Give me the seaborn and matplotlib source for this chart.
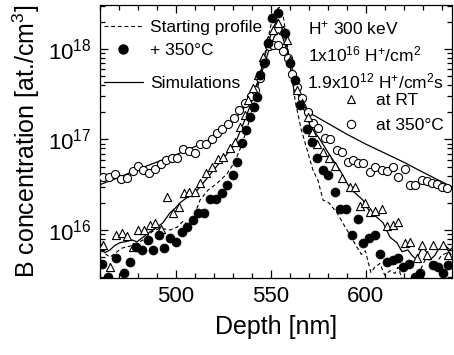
import numpy as np
import pandas as pd
import matplotlib
matplotlib.use("Agg")
import matplotlib.pyplot as plt
import seaborn as sns
from matplotlib.lines import Line2D
from matplotlib.ticker import MultipleLocator, LogLocator, NullFormatter

# ---------------- data (depth in nm, concentration as log10 of at./cm^3) ----------------
start_x = [460.2, 465.4, 471.7, 477.5, 482.8, 487.5, 491.7, 497.0, 500.7, 504.0, 507.5, 512.8,
           517.0, 522.0, 527.0, 531.0, 535.0, 539.0, 543.0, 547.0, 550.0, 552.5, 554.5, 556.5,
           558.5, 560.5, 563.0, 566.0, 569.0, 572.3, 574.9, 577.6, 580.7, 584.9, 588.5, 592.2,
           595.2, 597.8, 599.9, 601.2, 602.8, 604.9, 607.5, 610.1, 612.8, 615.4, 617.0, 620.0,
           624.0, 628.0, 632.0, 636.0, 640.0, 644.0, 646.0]
start_log = [15.78, 15.70, 15.80, 15.83, 15.89, 15.98, 16.02, 16.00, 16.03, 16.10, 16.03, 16.33,
             16.44, 16.52, 16.62, 16.75, 16.95, 17.22, 17.55, 17.95, 18.25, 18.42, 18.46, 18.38,
             18.10, 17.78, 17.42, 17.12, 16.90, 16.66, 16.55, 16.33, 16.30, 16.19, 16.06, 15.93,
             15.82, 15.73, 15.77, 15.66, 15.53, 15.59, 15.63, 15.50, 15.55, 15.52, 15.59, 15.42,
             15.38, 15.52, 15.70, 15.60, 15.72, 15.76, 15.70]

anneal_x = [461.3, 464.4, 468.6, 472.8, 476.0, 479.1, 482.3, 485.4, 488.1, 491.2, 493.8, 497.0,
            500.2, 503.3, 505.9, 509.1, 511.7, 514.9, 518.1, 521.3, 524.4, 527.1, 530.2, 532.5,
            535.0, 537.0, 539.0, 541.0, 542.8, 544.4, 546.5, 548.6, 550.7, 553.8, 557.5, 560.2,
            562.8, 565.5, 569.0, 571.8, 574.4, 577.6, 580.2, 583.9, 586.5, 589.7, 592.9, 596.0,
            598.6, 601.7, 604.9, 607.5, 611.2, 614.4, 617.0, 619.6, 622.8, 626.0, 628.6, 635.4,
            638.2, 640.7, 643.3]
anneal_log = [15.62, 15.48, 15.69, 15.52, 15.65, 15.81, 15.78, 15.89, 15.78, 15.94, 15.80, 15.91,
              15.87, 15.98, 16.03, 16.11, 16.19, 16.19, 16.34, 16.34, 16.41, 16.50, 16.61, 16.75,
              16.96, 17.10, 17.25, 17.36, 17.47, 17.71, 17.85, 18.07, 18.34, 18.40, 18.18, 17.85,
              17.66, 17.38, 17.12, 16.97, 16.80, 16.66, 16.61, 16.42, 16.23, 16.23, 15.94, 16.12,
              15.86, 15.91, 15.94, 15.73, 15.65, 15.67, 15.69, 15.59, 15.62, 15.48, 15.52, 15.61,
              15.59, 15.52, 15.61]

rt_x = [461.8, 465.4, 468.6, 471.7, 474.4, 477.5, 480.2, 483.3, 486.5, 489.1, 492.3, 495.4,
        498.6, 501.8, 504.4, 507.0, 510.2, 512.8, 515.9, 519.0, 522.3, 525.0, 528.6, 531.3,
        533.8, 536.5, 538.1, 540.7, 543.4, 546.0, 548.6, 551.3, 553.8, 556.5, 558.6, 560.2,
        563.8, 566.5, 569.5, 571.8, 574.5, 577.5, 580.5, 583.8, 587.5, 591.7, 594.4, 597.0,
        599.6, 602.3, 604.9, 608.6, 611.2, 614.4, 617.0, 620.7, 623.3, 627.0, 629.6, 632.3,
        635.4, 640.7, 643.3]
rt_log = [15.83, 15.59, 15.95, 15.97, 15.93, 15.81, 16.00, 16.00, 16.06, 16.08, 16.01, 16.37,
          16.19, 16.25, 16.41, 16.42, 16.42, 16.52, 16.63, 16.70, 16.78, 16.81, 16.91, 16.97,
          17.14, 17.27, 17.44, 17.57, 17.71, 17.91, 18.10, 18.21, 18.29, 18.21, 18.10, 17.88,
          17.55, 17.40, 17.25, 17.08, 16.95, 16.86, 16.80, 16.71, 16.57, 16.48, 16.48, 16.27,
          16.30, 16.20, 16.21, 16.23, 16.04, 16.06, 16.09, 15.86, 15.87, 15.69, 15.83, 15.72,
          15.83, 15.83, 15.72]

hot_x = [461.7, 464.9, 468.1, 471.2, 474.4, 477.5, 480.2, 482.8, 485.9, 489.1, 492.3, 494.9,
         498.1, 500.7, 503.8, 507.0, 510.2, 512.8, 515.9, 519.1, 521.8, 524.5, 527.5, 530.5,
         533.5, 536.5, 539.5, 542.0, 544.5, 547.0, 549.0, 551.5, 554.0, 556.5, 559.0, 561.5,
         564.0, 566.5, 569.5, 572.3, 574.9, 578.6, 581.2, 584.9, 587.5, 590.7, 593.3, 596.0,
         598.6, 602.3, 604.9, 608.6, 611.2, 614.4, 617.0, 620.7, 623.3, 626.0, 629.6, 632.3,
         635.0, 637.6, 640.2, 642.8]
hot_log = [16.59, 16.59, 16.62, 16.56, 16.58, 16.65, 16.71, 16.66, 16.63, 16.67, 16.73, 16.77,
           16.80, 16.79, 16.90, 16.87, 16.85, 16.95, 16.95, 17.01, 17.07, 17.12, 17.17, 17.24,
           17.33, 17.40, 17.48, 17.55, 17.68, 17.86, 18.03, 18.04, 18.04, 17.98, 17.90, 17.72,
           17.58, 17.46, 17.30, 17.18, 17.13, 17.02, 17.01, 16.88, 16.86, 16.75, 16.77, 16.74,
           16.74, 16.64, 16.70, 16.66, 16.65, 16.70, 16.59, 16.67, 16.50, 16.50, 16.55, 16.54,
           16.52, 16.51, 16.48, 16.46]

sim_rt_x = [460.2, 462.8, 465.4, 468.0, 470.7, 473.3, 477.0, 479.6, 482.8, 486.5, 490.2, 493.3,
            497.0, 499.7, 502.3, 506.0, 509.2, 513.0, 518.0, 523.0, 527.0, 531.0, 536.5, 541.8,
            547.0, 550.8, 553.4, 556.5, 560.2, 565.5, 570.7, 576.0, 581.0, 586.5, 591.8, 598.6,
            602.3, 606.0, 609.2, 612.9, 616.5, 619.2, 622.3, 624.4, 627.0, 628.6, 630.2, 632.3,
            633.9, 636.5, 638.1, 641.8, 644.4, 646.0]
sim_rt_log = [15.80, 15.75, 15.78, 15.83, 15.86, 15.87, 15.89, 15.87, 15.92, 15.98, 16.03, 16.08,
              16.19, 16.24, 16.30, 16.36, 16.39, 16.48, 16.61, 16.74, 16.84, 16.94, 17.22, 17.52,
              17.93, 18.21, 18.32, 18.21, 17.88, 17.44, 17.16, 17.00, 16.83, 16.66, 16.46, 16.33,
              16.20, 16.14, 16.08, 15.92, 15.86, 15.76, 15.78, 15.72, 15.67, 15.76, 15.81, 15.75,
              15.67, 15.72, 15.78, 15.83, 15.78, 15.81]

sim_hot_x = [460, 470, 480, 490, 500, 510, 520, 528, 535, 540, 545, 549, 552, 554, 556, 558,
             560, 563, 566, 570, 575, 580, 590, 600, 610, 620, 630, 646]
sim_hot_log = [16.50, 16.58, 16.67, 16.75, 16.83, 16.92, 17.02, 17.15, 17.32, 17.48, 17.72, 17.98,
               18.14, 18.18, 18.15, 18.02, 17.82, 17.58, 17.42, 17.30, 17.24, 17.18, 17.06, 16.95,
               16.85, 16.75, 16.64, 16.47]

# ---------------- style ----------------
sns.set_theme(style="ticks", rc={"text.color": "black", "axes.labelcolor": "black",
                                 "xtick.color": "black", "ytick.color": "black",
                                 "axes.edgecolor": "black"})
plt.rcParams['font.family'] = ['Liberation Sans', 'DejaVu Sans']
plt.rcParams['mathtext.fontset'] = 'custom'
plt.rcParams['mathtext.rm'] = 'Liberation Sans'
plt.rcParams['mathtext.it'] = 'Liberation Sans:italic'
plt.rcParams['mathtext.bf'] = 'Liberation Sans:bold'
plt.rcParams['axes.linewidth'] = 0.9

fig = plt.figure(figsize=(4.54, 3.55), dpi=100)
ax = fig.add_axes([0.2196, 0.2177, 0.7760, 0.7683])

def frame(x, lg):
    return pd.DataFrame({"depth": x, "conc": np.power(10.0, np.asarray(lg))})

df_start = frame(start_x, start_log)
df_anneal = frame(anneal_x, anneal_log)
df_rt = frame(rt_x, rt_log)
df_hot = frame(hot_x, hot_log)
df_sim_rt = frame(sim_rt_x, sim_rt_log)
df_sim_hot = frame(sim_hot_x, sim_hot_log)

sns.lineplot(data=df_start, x="depth", y="conc", ax=ax, color="black", lw=0.8,
             dashes=False, linestyle=(0, (3.5, 2.5)), estimator=None, sort=False)
sns.lineplot(data=df_sim_rt, x="depth", y="conc", ax=ax, color="black", lw=0.9,
             estimator=None, sort=False)
sns.lineplot(data=df_sim_hot, x="depth", y="conc", ax=ax, color="black", lw=0.9,
             estimator=None, sort=False)
sns.scatterplot(data=df_hot, x="depth", y="conc", ax=ax, marker="o", s=34,
                facecolor="white", edgecolor="black", linewidth=0.8, zorder=3)
sns.scatterplot(data=df_rt, x="depth", y="conc", ax=ax, marker="^", s=34,
                facecolor="white", edgecolor="black", linewidth=0.8, zorder=3)
sns.scatterplot(data=df_anneal, x="depth", y="conc", ax=ax, marker="o", s=42,
                color="black", edgecolor="black", linewidth=0.5, zorder=4)

ax.set_yscale("log")
ax.set_xlim(460, 645.5)
ax.set_ylim(10 ** 15.473, 10 ** 18.486)

ax.xaxis.set_major_locator(MultipleLocator(50))
ax.xaxis.set_minor_locator(MultipleLocator(10))
ax.yaxis.set_major_locator(LogLocator(base=10, numticks=10))
ax.yaxis.set_minor_locator(LogLocator(base=10, subs=np.arange(2, 10), numticks=20))
ax.yaxis.set_minor_formatter(NullFormatter())
ax.set_xticks([500, 550, 600])
ax.set_xticklabels(["500", "550", "600"])
ax.set_yticks([1e16, 1e17, 1e18])
ax.set_yticklabels([r"10$^{16}$", r"10$^{17}$", r"10$^{18}$"])

ax.tick_params(which="both", direction="in", top=True, right=True, width=0.9, color="black")
ax.tick_params(which="major", length=6, labelsize=16, pad=6)
ax.tick_params(which="minor", length=3.5)
for s in ax.spines.values():
    s.set_color("black")

ax.set_xlabel("Depth [nm]", fontsize=18, labelpad=6)
ax.set_ylabel("B concentration [at./cm$^3$]", fontsize=18, labelpad=4)

# ---------------- legends / annotation ----------------
fs = 12.5
h1 = [Line2D([], [], color="black", lw=0.8, linestyle=(0, (3.5, 2.5))),
      Line2D([], [], color="black", marker="o", ms=6.5, linestyle="none")]
leg1 = ax.legend(h1, ["Starting profile", "+ 350°C"], loc="upper left",
                 bbox_to_anchor=(0.012, 0.947), frameon=False, fontsize=fs,
                 handlelength=2.25, handletextpad=0.4, labelspacing=0.47,
                 borderpad=0, borderaxespad=0)
ax.add_artist(leg1)
h2 = [Line2D([], [], color="black", lw=0.9)]
leg2 = ax.legend(h2, ["Simulations"], loc="upper left",
                 bbox_to_anchor=(0.012, 0.74), frameon=False, fontsize=fs,
                 handlelength=2.25, handletextpad=0.4, borderpad=0, borderaxespad=0)
ax.add_artist(leg2)
h3 = [Line2D([], [], color="black", marker="^", ms=6, mfc="white", mew=0.8, linestyle="none"),
      Line2D([], [], color="black", marker="o", ms=6, mfc="white", mew=0.8, linestyle="none")]
leg3 = ax.legend(h3, ["at RT", "at 350°C"], loc="upper left",
                 bbox_to_anchor=(0.675, 0.678), frameon=False, fontsize=fs,
                 handlelength=1.5, handletextpad=0.7, labelspacing=0.55,
                 borderpad=0, borderaxespad=0)

ax.text(0.591, 0.915, r"H$^{+}$ 300 keV", transform=ax.transAxes, fontsize=fs,
        ha="left", va="center")
ax.text(0.591, 0.82, r"1x10$^{16}$ H$^{+}$/cm$^{2}$", transform=ax.transAxes, fontsize=fs,
        ha="left", va="center")
ax.text(0.588, 0.718, r"1.9x10$^{12}$ H$^{+}$/cm$^{2}$s", transform=ax.transAxes, fontsize=fs,
        ha="left", va="center")

fig.savefig("out.png", dpi=100)
